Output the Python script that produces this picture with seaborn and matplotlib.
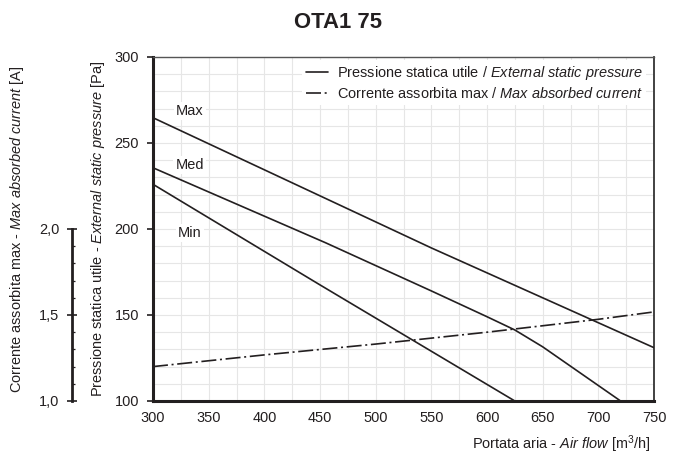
import numpy as np
import pandas as pd
import matplotlib
matplotlib.use("Agg")
import matplotlib.pyplot as plt
from matplotlib import font_manager as fm
from matplotlib.lines import Line2D
from matplotlib.ticker import FixedLocator, FuncFormatter
import seaborn as sns

# ---------------- data ----------------
max_flow = [300, 550, 750]
max_pa = [264.7, 189, 131]
med_flow = [300, 455, 550, 600, 625, 650, 700, 720]
med_pa = [235.6, 192, 164, 149, 141.3, 131.5, 109, 100]
min_flow = [300, 450, 625]
min_pa = [226, 167.5, 100]
cur_flow = [300, 400, 500, 600, 700, 750]
cur_amp = [1.20, 1.268, 1.331, 1.40, 1.475, 1.518]
curve_names = ["Max", "Med", "Min"]
label_pos = [(333, 268.6), (333, 237.2), (333, 197.5)]
x_ticks = [300, 350, 400, 450, 500, 550, 600, 650, 700, 750]
y_ticks = [100, 150, 200, 250, 300]
cur_ticks = [1.0, 1.5, 2.0]

sns.set_style("white")
names = {f.name for f in fm.fontManager.ttflist}
NARROW = "Liberation Sans Narrow" in names
FONT = "Liberation Sans Narrow" if NARROW else "Liberation Sans"
k = 1.0 if NARROW else 0.91
plt.rcParams["font.family"] = [FONT, "DejaVu Sans"]
plt.rcParams["mathtext.fontset"] = "custom"
plt.rcParams["mathtext.rm"] = FONT
plt.rcParams["mathtext.it"] = FONT + ":italic"
plt.rcParams["mathtext.bf"] = FONT + ":bold"
FS = 11.5 * k
INK = "#231f20"

fig = plt.figure(figsize=(6.76, 4.55), dpi=100)
ax = fig.add_axes([153 / 676, 1 - 401 / 455, 501 / 676, 344 / 455])

df = pd.concat([
    pd.DataFrame({"flow": max_flow, "pa": max_pa, "curve": "Max"}),
    pd.DataFrame({"flow": med_flow, "pa": med_pa, "curve": "Med"}),
    pd.DataFrame({"flow": min_flow, "pa": min_pa, "curve": "Min"}),
])
for name in curve_names:
    sub = df[df["curve"] == name]
    sns.lineplot(data=sub, x="flow", y="pa", ax=ax, color=INK, lw=1.2,
                 estimator=None, sort=False, legend=False, zorder=3)

ax.set_xlim(300, 750)
ax.set_ylim(100, 300)
ax.set_xticks(x_ticks)
ax.set_yticks(y_ticks)
ax.xaxis.set_minor_locator(FixedLocator(np.arange(300, 751, 25)))
ax.yaxis.set_minor_locator(FixedLocator(np.arange(100, 301, 10)))
ax.grid(which="both", color="#e6e6e6", lw=0.8, zorder=0)
ax.set_axisbelow(True)
ax.tick_params(which="major", direction="out", length=4.5, width=1.2,
               color=INK, labelsize=FS, labelcolor=INK)
ax.tick_params(which="minor", length=0)
ax.tick_params(axis="x", pad=2.5)
ax.tick_params(axis="y", pad=5.5)
for s in ["left", "bottom"]:
    ax.spines[s].set_linewidth(2.2)
    ax.spines[s].set_color(INK)
ax.spines["right"].set_linewidth(1.3)
ax.spines["right"].set_color("#333333")
ax.spines["top"].set_linewidth(1.0)
ax.spines["top"].set_color("#555555")

for name, (lx, ly) in zip(curve_names, label_pos):
    ax.text(lx, ly, name, fontsize=FS, color=INK, ha="center", va="center",
            bbox=dict(facecolor="white", edgecolor="none", pad=1.5), zorder=4)

ax.set_xlabel(r"Portata aria - $\it{Air\ flow}$ [m$^3$/h]", fontsize=FS, color=INK, loc="right")
ax.xaxis.set_label_coords(0.993, -0.093)
ax.set_ylabel(r"Pressione statica utile - $\it{External\ static\ pressure}$ [Pa]",
              fontsize=FS, color=INK)
ax.yaxis.set_label_coords(-0.092, 0.5)

# secondary current axis
ax2 = ax.twinx()
ax2.set_ylim(1.0, 3.0)
sns.lineplot(x=cur_flow, y=cur_amp, ax=ax2, color=INK, lw=1.2,
             linestyle=(0, (9, 2.2, 1.2, 2.2)), legend=False, zorder=3)
ax2.yaxis.set_ticks_position("left")
ax2.yaxis.set_label_position("left")
ax2.spines["left"].set_position(("outward", 58.3))
ax2.spines["left"].set_bounds(1.0, 2.0)
ax2.spines["left"].set_linewidth(2.0)
ax2.spines["left"].set_color(INK)
for s in ["right", "top", "bottom"]:
    ax2.spines[s].set_visible(False)
ax2.set_yticks(cur_ticks)
ax2.yaxis.set_major_formatter(FuncFormatter(lambda v, p: f"{v:.1f}".replace(".", ",")))
ax2.yaxis.set_minor_locator(FixedLocator(np.arange(1.0, 2.01, 0.1)))
ax2.tick_params(which="major", direction="inout", length=6.5, width=1.2,
                color=INK, labelsize=FS, labelcolor=INK, pad=6)
ax2.tick_params(which="minor", direction="in", length=2.5, width=0.9, color=INK)
ax2.set_ylabel(r"Corrente assorbita max - $\it{Max\ absorbed\ current}$ [A]",
               fontsize=FS, color=INK)
ax2.yaxis.set_label_coords(-0.2535, 0.5)
ax2.set_xlim(300, 750)

handles = [Line2D([], [], color=INK, lw=1.2),
           Line2D([], [], color=INK, lw=1.2, linestyle=(0, (9, 2.2, 1.2, 2.2)))]
labels = [r"Pressione statica utile / $\it{External\ static\ pressure}$",
          r"Corrente assorbita max / $\it{Max\ absorbed\ current}$"]
leg = ax2.legend(handles, labels, loc="upper right", bbox_to_anchor=(0.985, 0.99),
                 fontsize=FS, frameon=True, facecolor="white", edgecolor="none",
                 framealpha=1, fancybox=False, handlelength=1.5, handletextpad=0.6,
                 labelspacing=0.3, borderpad=0.25, borderaxespad=0)
for t in leg.get_texts():
    t.set_color(INK)

fig.text(0.5, 1 - 22 / 455, "OTA1 75", fontsize=17.5 * k, fontweight="bold",
         color=INK, ha="center", va="center")

fig.savefig("out.png", dpi=100)
